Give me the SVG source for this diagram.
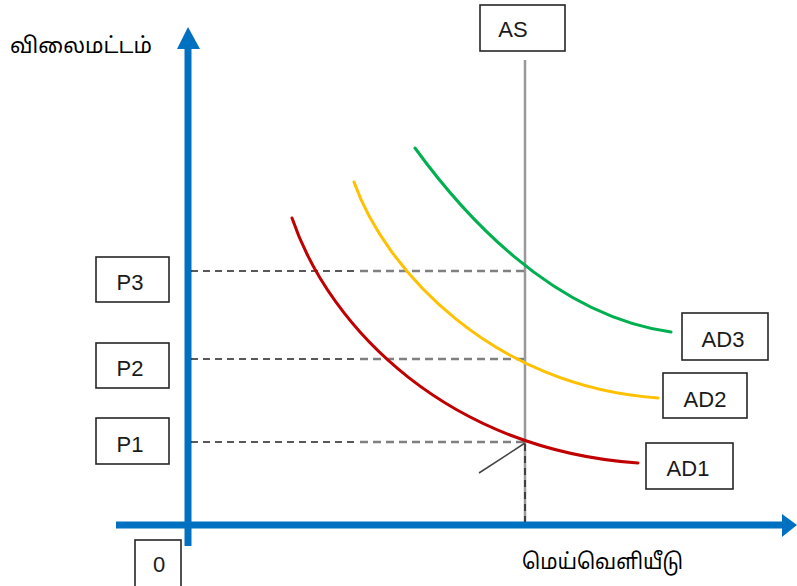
<svg xmlns="http://www.w3.org/2000/svg" width="797" height="586" viewBox="0 0 797 586">
<style>
.box{fill:#fff;stroke:#262626;stroke-width:1.6}
.lbl{font-family:"Liberation Sans",Arial,sans-serif;font-size:22px;fill:#1a1a1a;text-anchor:middle}
.ta{font-family:"Noto Sans","Noto Sans Tamil",sans-serif;font-size:22px;fill:#000}
.axis{stroke:#0070C0;stroke-width:7;fill:none}
.dashk{stroke:#222;stroke-width:1.4;stroke-dasharray:7,5;fill:none}
.dashg{stroke:#808080;stroke-width:2.6;stroke-dasharray:8,5;fill:none}
.curve{fill:none;stroke-width:3;stroke-linecap:round}
</style>
<rect width="797" height="586" fill="#fff"/>
<g id="connectors">
  <line class="axis" x1="188" y1="546" x2="188" y2="46"/>
  <polygon points="188,27 177,49 200,49" fill="#0070C0"/>
  <line class="axis" x1="116" y1="525" x2="784" y2="525"/>
  <polygon points="797,525 782,514 782,537" fill="#0070C0"/>
  <line x1="525" y1="60" x2="525" y2="522" stroke="#999" stroke-width="2.5"/>
  <line class="dashk" x1="191" y1="271" x2="355" y2="271"/>
  <line class="dashg" x1="360" y1="271" x2="524" y2="271"/>
  <line class="dashk" x1="191" y1="359" x2="355" y2="359"/>
  <line class="dashg" x1="360" y1="359" x2="524" y2="359"/>
  <line class="dashk" x1="191" y1="442" x2="355" y2="442"/>
  <line class="dashg" x1="360" y1="442" x2="524" y2="442"/>
  <line x1="525" y1="444" x2="525" y2="522" stroke="#111" stroke-width="1.3" stroke-dasharray="7,5"/>
  <line x1="479" y1="473" x2="525" y2="443" stroke="#444" stroke-width="1.5"/>
  <path class="curve" stroke="#C00000" d="M292,218 C330,330 450,450 638,463"/>
  <path class="curve" stroke="#FFC000" d="M354,182 C385,270 493,387 658,398"/>
  <path class="curve" stroke="#00B050" d="M415,148 C460,210 550,315 671,332"/>
</g>
<g id="ylabel"><text class="ta" x="10" y="53" textLength="142" lengthAdjust="spacingAndGlyphs">விலைமட்டம்</text></g>
<g id="xlabel"><text class="ta" x="522" y="569" textLength="161" lengthAdjust="spacingAndGlyphs">மெய்வெளியீடு</text></g>
<g id="AS"><rect class="box" x="480" y="5" width="85" height="46"/><text class="lbl" x="513" y="37">AS</text></g>
<g id="P3"><rect class="box" x="96" y="257" width="73" height="45"/><text class="lbl" x="130" y="290">P3</text></g>
<g id="P2"><rect class="box" x="96" y="343" width="73" height="45"/><text class="lbl" x="130" y="376">P2</text></g>
<g id="P1"><rect class="box" x="96" y="418" width="73" height="46"/><text class="lbl" x="130" y="452">P1</text></g>
<g id="AD1"><rect class="box" x="646" y="443" width="87" height="46"/><text class="lbl" x="688" y="476">AD1</text></g>
<g id="AD2"><rect class="box" x="663" y="373" width="84" height="45"/><text class="lbl" x="705" y="407">AD2</text></g>
<g id="AD3"><rect class="box" x="682" y="313" width="86" height="47"/><text class="lbl" x="723" y="347">AD3</text></g>
<g id="zero"><rect class="box" x="135" y="540" width="46" height="50"/><text class="lbl" x="159" y="572">0</text></g>
</svg>
